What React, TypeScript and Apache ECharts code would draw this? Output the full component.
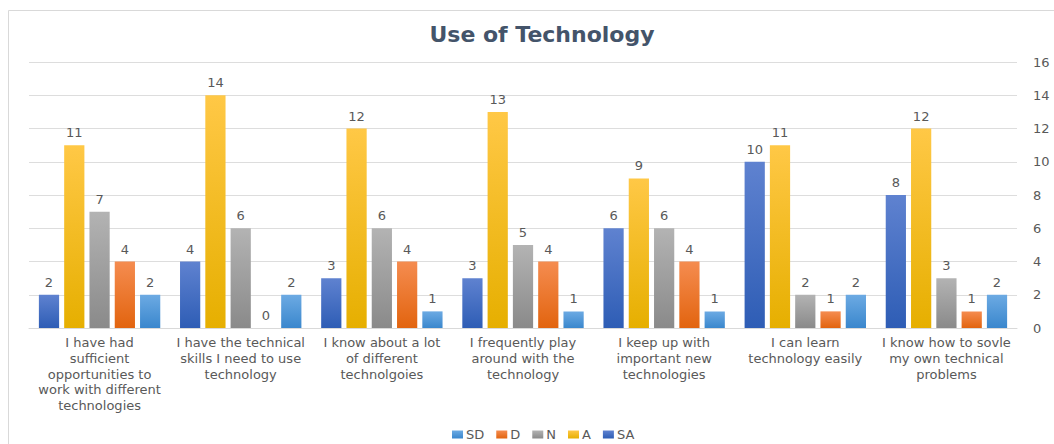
import React, { useEffect, useRef } from "react";
import * as echarts from "echarts";

const categories = [
  "I have had\nsufficient\nopportunities to\nwork with different\ntechnologies",
  "I have the technical\nskills I need to use\ntechnology",
  "I know about a lot\nof different\ntechnolgoies",
  "I frequently play\naround with the\ntechnology",
  "I keep up with\nimportant new\ntechnologies",
  "I can learn\ntechnology easily",
  "I know how to sovle\nmy own technical\nproblems",
];

const saValues = [2, 4, 3, 3, 6, 10, 8];
const aValues = [11, 14, 12, 13, 9, 11, 12];
const nValues = [7, 6, 6, 5, 6, 2, 3];
const dValues = [4, 0, 4, 4, 4, 1, 1];
const sdValues = [2, 2, 1, 1, 1, 2, 2];

const legendOrder = ["SD", "D", "N", "A", "SA"];
const yTicks = { min: 0, max: 16, interval: 2 };

const grad = (top: string, bottom: string) =>
  new echarts.graphic.LinearGradient(0, 0, 0, 1, [
    { offset: 0, color: top },
    { offset: 1, color: bottom },
  ]);

const FONT = "'DejaVu Sans', 'Open Sans', sans-serif";

export default function App() {
  const ref = useRef<HTMLDivElement>(null);
  useEffect(() => {
    if (!ref.current) return;
    const chart = echarts.init(ref.current, null, { renderer: "svg" });
    const label = {
      show: true,
      position: "top" as const,
      distance: 6,
      color: "#595959",
      fontSize: 13,
      fontFamily: FONT,
    };
    const mk = (name: string, data: number[], top: string, bottom: string) => ({
      name,
      type: "bar" as const,
      data,
      barGap: "25%",
      barCategoryGap: "14%",
      label,
      itemStyle: { color: grad(top, bottom) },
      emphasis: { disabled: true },
    });
    const series = [
      mk("SA", saValues, "#5F82D0", "#2E5DB5"),
      mk("A", aValues, "#FFC846", "#E6AF00"),
      mk("N", nValues, "#B3B3B3", "#8A8A8A"),
      mk("D", dValues, "#F58C50", "#E2640F"),
      mk("SD", sdValues, "#6CAAE3", "#3A87CD"),
    ];

    chart.setOption({
      animation: false,
      backgroundColor: "#ffffff",
      title: {
        text: "Use of Technology",
        left: 537,
        top: 18,
        textAlign: "center",
        textStyle: {
          fontFamily: FONT,
          fontSize: 22,
          fontWeight: "bold",
          color: "#44546A",
        },
      },
      graphic: [
        {
          type: "rect",
          shape: { x: 8.5, y: 10.5, width: 1100, height: 500 },
          style: { fill: "none", stroke: "#D9D9D9", lineWidth: 1 },
          silent: true,
        },
      ],
      legend: {
        data: legendOrder.map((n) => ({ name: n })),
        top: 423,
        left: 447,
        itemWidth: 11,
        itemHeight: 8,
        itemGap: 12,
        icon: "rect",
        textStyle: { fontFamily: FONT, fontSize: 13, color: "#595959", padding: [0, 0, 0, -2] },
      },
      color: ["#4472C4", "#FFC000", "#A5A5A5", "#ED7D31", "#5B9BD5"],
      grid: { left: 29, right: 37, top: 62, bottom: 116, containLabel: false },
      xAxis: {
        type: "category",
        data: categories,
        axisLine: { show: true, lineStyle: { color: "#D9D9D9" } },
        axisTick: { show: false },
        axisLabel: {
          interval: 0,
          fontFamily: FONT,
          fontSize: 13,
          color: "#595959",
          lineHeight: 15.6,
          margin: 7,
        },
      },
      yAxis: {
        type: "value",
        position: "right",
        min: yTicks.min,
        max: yTicks.max,
        interval: yTicks.interval,
        axisLine: { show: false },
        axisTick: { show: false },
        splitLine: { lineStyle: { color: "#DDDDDD" } },
        axisLabel: { fontFamily: FONT, fontSize: 13, color: "#595959", margin: 16 },
      },
      series,
    });
    return () => chart.dispose();
  }, []);
  return (
    <div
      ref={ref}
      style={{ position: "fixed", left: 0, top: 0, width: 1054, height: 444 }}
    />
  );
}
